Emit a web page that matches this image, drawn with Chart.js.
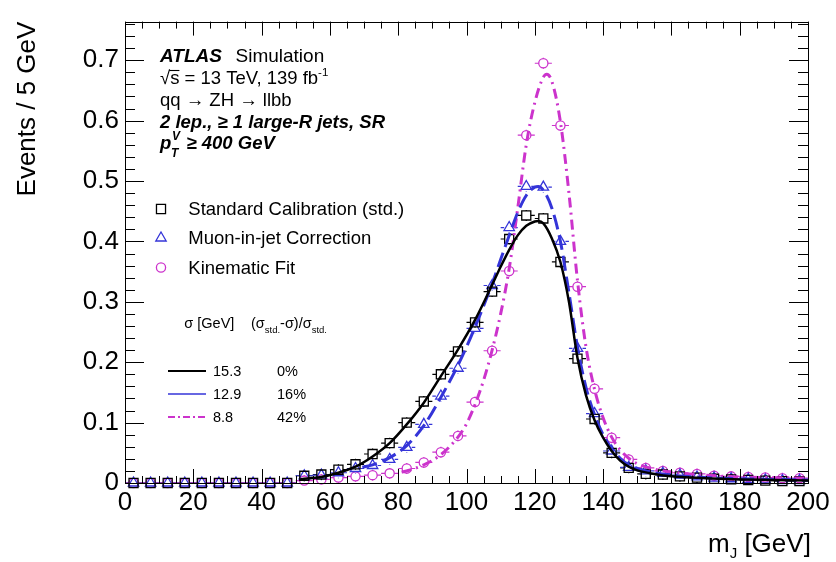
<!DOCTYPE html>
<html>
<head>
<meta charset="utf-8">
<script src="https://cdn.jsdelivr.net/npm/chart.js@4.4.1/dist/chart.umd.min.js"></script>
<style>
html, body { margin: 0; padding: 0; background: #fff; }
#wrap { width: 836px; height: 562px; }
</style>
</head>
<body>
<div id="wrap"><canvas id="c" width="836" height="562"></canvas></div>
<script>
// ------------ bins (5 GeV wide) ------------
const binCenters = [2.5, 7.5, 12.5, 17.5, 22.5, 27.5, 32.5, 37.5, 42.5, 47.5,
  52.5, 57.5, 62.5, 67.5, 72.5, 77.5, 82.5, 87.5, 92.5, 97.5,
  102.5, 107.5, 112.5, 117.5, 122.5, 127.5, 132.5, 137.5, 142.5, 147.5,
  152.5, 157.5, 162.5, 167.5, 172.5, 177.5, 182.5, 187.5, 192.5, 197.5];

const stdValues = [0, 0, 0, 0, 0, 0, 0, 0, 0, 0,
  0.012, 0.014, 0.022, 0.031, 0.048, 0.066, 0.100, 0.135, 0.180, 0.218,
  0.266, 0.317, 0.404, 0.443, 0.438, 0.366, 0.206, 0.106, 0.050, 0.025,
  0.015, 0.014, 0.011, 0.009, 0.007, 0.006, 0.005, 0.004, 0.003, 0.003];

const muonValues = [0, 0, 0, 0, 0, 0, 0, 0, 0, 0,
  0.012, 0.013, 0.017, 0.024, 0.029, 0.039, 0.059, 0.097, 0.144, 0.190,
  0.256, 0.327, 0.423, 0.491, 0.490, 0.400, 0.223, 0.115, 0.053, 0.026,
  0.020, 0.016, 0.013, 0.010, 0.008, 0.007, 0.006, 0.005, 0.004, 0.004];

const kinfitValues = [0, 0, 0, 0, 0, 0, 0, 0, 0, 0,
  0.004, 0.006, 0.009, 0.011, 0.013, 0.016, 0.024, 0.034, 0.051, 0.078,
  0.134, 0.219, 0.351, 0.576, 0.695, 0.592, 0.325, 0.156, 0.075, 0.039,
  0.025, 0.020, 0.017, 0.015, 0.012, 0.011, 0.010, 0.009, 0.008, 0.008];

// ------------ fitted curves ------------
const stdCurveX = [51, 52.5, 57.5, 62.5, 67.5, 72.5, 77.5, 82.5, 87.5, 92.5, 97.5, 102.5, 107.5,
  110, 112.5, 115, 117.5, 120, 121, 122.5, 125, 127.5, 130, 132.5, 135, 137.5, 140, 142.5,
  145, 147.5, 150, 155, 160, 170, 180, 190, 200];
const stdCurveY = [0.005, 0.007, 0.010, 0.017, 0.027, 0.044, 0.066, 0.097, 0.133, 0.177, 0.221, 0.270, 0.328,
  0.358, 0.386, 0.410, 0.426, 0.433, 0.434, 0.430, 0.405, 0.366, 0.300, 0.207, 0.145, 0.104, 0.075, 0.053,
  0.037, 0.027, 0.021, 0.015, 0.011, 0.008, 0.006, 0.005, 0.004];

const muonCurveX = [69.5, 72.5, 77.5, 82.5, 87.5, 92.5, 97.5, 102.5, 107.5, 110, 112.5, 115, 117.5,
  120, 121, 122.5, 125, 127.5, 130, 132.5, 135, 137.5, 140, 142.5, 145, 147.5, 150, 155, 160,
  170, 180, 190, 200];
const muonCurveY = [0.026, 0.030, 0.042, 0.062, 0.095, 0.142, 0.195, 0.258, 0.330, 0.370, 0.410, 0.448, 0.476,
  0.490, 0.491, 0.485, 0.455, 0.400, 0.315, 0.225, 0.158, 0.113, 0.080, 0.057, 0.041, 0.030, 0.024, 0.017, 0.013,
  0.009, 0.007, 0.006, 0.005];

const kinfitCurveX = [81, 82.5, 87.5, 92.5, 97.5, 100, 102.5, 105, 107.5, 110, 112.5, 115, 117.5, 120,
  122.5, 123.5, 125, 127.5, 130, 132.5, 135, 137.5, 140, 142.5, 145, 147.5, 150, 155, 160,
  170, 180, 190, 200];
const kinfitCurveY = [0.018, 0.020, 0.030, 0.047, 0.076, 0.098, 0.130, 0.170, 0.220, 0.280, 0.355, 0.455, 0.560, 0.630,
  0.672, 0.677, 0.665, 0.598, 0.480, 0.335, 0.225, 0.155, 0.108, 0.076, 0.055, 0.041, 0.032, 0.023, 0.018,
  0.013, 0.010, 0.009, 0.008];

// ------------ axes ------------
const xTicks = [0, 20, 40, 60, 80, 100, 120, 140, 160, 180, 200];
const yTicks = [0, 0.1, 0.2, 0.3, 0.4, 0.5, 0.6, 0.7];
const yTickLabels = ["0", "0.1", "0.2", "0.3", "0.4", "0.5", "0.6", "0.7"];

const BIN_HALF = 2.5;
const Y_ERR = 0.009;
const X_MINOR = 5, Y_MINOR = 0.02;

const FONT = '"Liberation Sans", Arial, Helvetica, sans-serif';
const BLACK = "#000000", BLUE = "#3434d8", MAGENTA = "#cc33cc";

function f(size, style){ return (style ? style + " " : "") + size + "px " + FONT; }
function pts(values){ return binCenters.map((x, i) => ({ x, y: values[i] })); }
function curve(xs, ys){ return xs.map((x, i) => ({ x, y: ys[i] })); }
// draw text runs: [text, font, dy, noAdvance]
function runs(ctx, x, y, parts){
  parts.forEach(p => {
    ctx.font = p[1];
    ctx.fillText(p[0], x, y + (p[2] || 0));
    if (!p[3]) x += ctx.measureText(p[0]).width;
  });
  return x;
}

// ------------ error bars (bin width + small vertical) ------------
const errBars = {
  id: "errBars",
  beforeDatasetsDraw(chart){
    const { ctx, scales: { x, y } } = chart;
    ctx.save();
    chart.data.datasets.forEach((ds, di) => {
      if (!ds.isPoints) return;
      const meta = chart.getDatasetMeta(di);
      ctx.strokeStyle = ds.borderColor;
      ctx.lineWidth = 1.2;
      ctx.beginPath();
      meta.data.forEach((el, i) => {
        const v = ds.data[i];
        const xl = x.getPixelForValue(v.x - BIN_HALF), xr = x.getPixelForValue(v.x + BIN_HALF);
        const g = ds.gap;
        ctx.moveTo(xl, el.y); ctx.lineTo(el.x - g, el.y);
        ctx.moveTo(el.x + g, el.y); ctx.lineTo(xr, el.y);
        if (v.y > 0) {
          const yt = y.getPixelForValue(v.y + Y_ERR), yb = y.getPixelForValue(Math.max(v.y - Y_ERR, 0));
          if (yt < el.y - g) { ctx.moveTo(el.x, el.y - g); ctx.lineTo(el.x, yt); }
          if (yb > el.y + g) { ctx.moveTo(el.x, el.y + g); ctx.lineTo(el.x, yb); }
        }
      });
      ctx.stroke();
    });
    ctx.restore();
  }
};

// ------------ frame with inward ticks (ROOT style) ------------
const frame = {
  id: "frame",
  afterDatasetsDraw(chart){
    const { ctx, chartArea: a, scales: { x, y } } = chart;
    ctx.save();
    ctx.strokeStyle = "#000";
    ctx.lineWidth = 1;
    ctx.strokeRect(Math.round(a.left) + 0.5, Math.round(a.top) + 0.5, Math.round(a.right - a.left), Math.round(a.bottom - a.top));
    ctx.beginPath();
    for (let v = x.min; v <= x.max + 1e-9; v += X_MINOR) {
      const px = Math.round(x.getPixelForValue(v)) + 0.5;
      const len = xTicks.includes(v) ? 14 : 7;
      ctx.moveTo(px, a.bottom); ctx.lineTo(px, a.bottom - len);
      ctx.moveTo(px, a.top); ctx.lineTo(px, a.top + len);
    }
    for (let k = 0; k * Y_MINOR <= y.max + 1e-9; k++) {
      const v = k * Y_MINOR;
      const py = Math.round(y.getPixelForValue(v)) + 0.5;
      const len = (k % 5 === 0) ? 19 : 10;
      ctx.moveTo(a.left, py); ctx.lineTo(a.left + len, py);
      ctx.moveTo(a.right, py); ctx.lineTo(a.right - len, py);
    }
    ctx.stroke();
    ctx.restore();
  }
};

// ------------ labels, legends, axis title ------------
const texts = {
  id: "texts",
  afterDraw(chart){
    const ctx = chart.ctx;
    ctx.save();
    ctx.fillStyle = "#000";
    ctx.textBaseline = "alphabetic";
    ctx.textAlign = "left";

    // ATLAS block
    runs(ctx, 160, 62, [["ATLAS", f(19, "italic bold")]]);
    runs(ctx, 235.5, 62, [["Simulation", f(19)]]);
    ctx.font = f(18.5);
    const sq = ctx.measureText("\u221A").width;
    const sw = ctx.measureText("s").width;
    runs(ctx, 160, 84, [["\u221A", f(18.5)], ["s = 13 TeV, 139 fb", f(18.5)], ["-1", f(11.5), -8]]);
    ctx.strokeStyle = "#000"; ctx.lineWidth = 1.1;
    ctx.beginPath(); ctx.moveTo(160 + sq - 1, 70.5); ctx.lineTo(160 + sq + sw, 70.5); ctx.stroke();
    runs(ctx, 160, 106, [["qq \u2192 ZH \u2192 llbb", f(18.5)]]);
    runs(ctx, 160, 127.5, [["2 lep., \u2265 1 large-R jets, SR", f(18.5, "italic bold")]]);
    runs(ctx, 160, 149, [["p", f(18.5, "italic bold")]]);
    runs(ctx, 172, 140, [["V", f(12, "italic bold")]]);
    runs(ctx, 171, 157, [["T", f(12, "italic bold")]]);
    runs(ctx, 186.5, 149, [["\u2265 400 GeV", f(18.5, "italic bold")]]);

    // marker legend
    const mk = [
      { style: "rect", r: 6.4, c: BLACK, y: 209, t: "Standard Calibration (std.)" },
      { style: "triangle", r: 6, c: BLUE, y: 238, t: "Muon-in-jet Correction" },
      { style: "circle", r: 4.6, c: MAGENTA, y: 267.5, t: "Kinematic Fit" }
    ];
    mk.forEach(m => {
      ctx.strokeStyle = m.c; ctx.fillStyle = "rgba(0,0,0,0)"; ctx.lineWidth = 1.3;
      Chart.helpers.drawPoint(ctx, { pointStyle: m.style, radius: m.r, rotation: 0, borderWidth: 1.3 }, 161, m.y);
      ctx.fillStyle = "#000";
      runs(ctx, 188.3, m.y + 6, [[m.t, f(18.5)]]);
    });

    // resolution legend
    ctx.fillStyle = "#000";
    runs(ctx, 184.3, 328, [["\u03C3 [GeV]", f(14.5)]]);
    runs(ctx, 251, 328, [["(\u03C3", f(14.5)], ["std.", f(9.5), 4.5], ["-\u03C3)/\u03C3", f(14.5)], ["std.", f(9.5), 4.5]]);
    const rl = [
      { c: BLACK, w: 2, dash: [], y: 371, s: "15.3", p: "0%" },
      { c: BLUE, w: 1.5, dash: [], y: 394, s: "12.9", p: "16%" },
      { c: MAGENTA, w: 2, dash: [7, 3, 2, 3], y: 417, s: "8.8", p: "42%" }
    ];
    rl.forEach(r => {
      ctx.strokeStyle = r.c; ctx.lineWidth = r.w; ctx.setLineDash(r.dash);
      ctx.beginPath(); ctx.moveTo(168, r.y); ctx.lineTo(206, r.y); ctx.stroke();
      ctx.setLineDash([]);
      ctx.fillStyle = "#000";
      runs(ctx, 213, r.y + 5, [[r.s, f(14.5)]]);
      runs(ctx, 277, r.y + 5, [[r.p, f(14.5)]]);
    });

    // x axis title
    runs(ctx, 708, 552, [["m", f(26)], ["J", f(15), 6], [" [GeV]", f(26)]]);
    ctx.restore();
  }
};

const pointDs = (label, values, style, radius, color, gap) => ({
  label, data: pts(values), isPoints: true, gap,
  showLine: false, pointStyle: style, pointRadius: radius, pointBorderWidth: 1.3,
  borderColor: color, backgroundColor: "rgba(0,0,0,0)", clip: false, order: 1
});
const curveDs = (label, xs, ys, color, width, dash) => ({
  label, data: curve(xs, ys), showLine: true, pointRadius: 0,
  borderColor: color, borderWidth: width, borderDash: dash, backgroundColor: "rgba(0,0,0,0)",
  cubicInterpolationMode: "monotone", fill: false, order: 0
});

new Chart(document.getElementById("c"), {
  type: "scatter",
  data: {
    datasets: [
      pointDs("Standard Calibration (std.)", stdValues, "rect", 6.4, BLACK, 4.5),
      pointDs("Muon-in-jet Correction", muonValues, "triangle", 6, BLUE, 5),
      pointDs("Kinematic Fit", kinfitValues, "circle", 4.6, MAGENTA, 4.6),
      curveDs("std fit", stdCurveX, stdCurveY, BLACK, 2.5, []),
      curveDs("muon fit", muonCurveX, muonCurveY, BLUE, 3, [15, 6]),
      curveDs("kinfit fit", kinfitCurveX, kinfitCurveY, MAGENTA, 3, [10, 5, 2, 5])
    ]
  },
  options: {
    responsive: false,
    animation: false,
    devicePixelRatio: 1,
    layout: { padding: { left: 0, right: 28, top: 17, bottom: 0 } },
    plugins: { legend: { display: false }, tooltip: { enabled: false } },
    scales: {
      x: {
        type: "linear", min: 0, max: 200,
        grid: { display: false, drawTicks: false }, border: { display: false },
        afterBuildTicks: s => { s.ticks = xTicks.map(v => ({ value: v })); },
        ticks: { font: { family: FONT, size: 26 }, color: "#000", padding: 4, maxRotation: 0, autoSkip: false,
                 callback: v => String(v) },
        afterFit: s => { s.height = 79; }
      },
      y: {
        type: "linear", min: 0, max: 0.764,
        grid: { display: false, drawTicks: false }, border: { display: false },
        afterBuildTicks: s => { s.ticks = yTicks.map(v => ({ value: v })); },
        ticks: { font: { family: FONT, size: 26 }, color: "#000", padding: 6, autoSkip: false,
                 callback: (v, i) => yTickLabels[i] },
        title: { display: true, text: "Events / 5 GeV", align: "end", color: "#000",
                 font: { family: FONT, size: 26 }, padding: { top: 12, bottom: 0 } },
        afterFit: s => { s.width = 125; }
      }
    }
  },
  plugins: [errBars, frame, texts]
});
</script>
</body>
</html>
